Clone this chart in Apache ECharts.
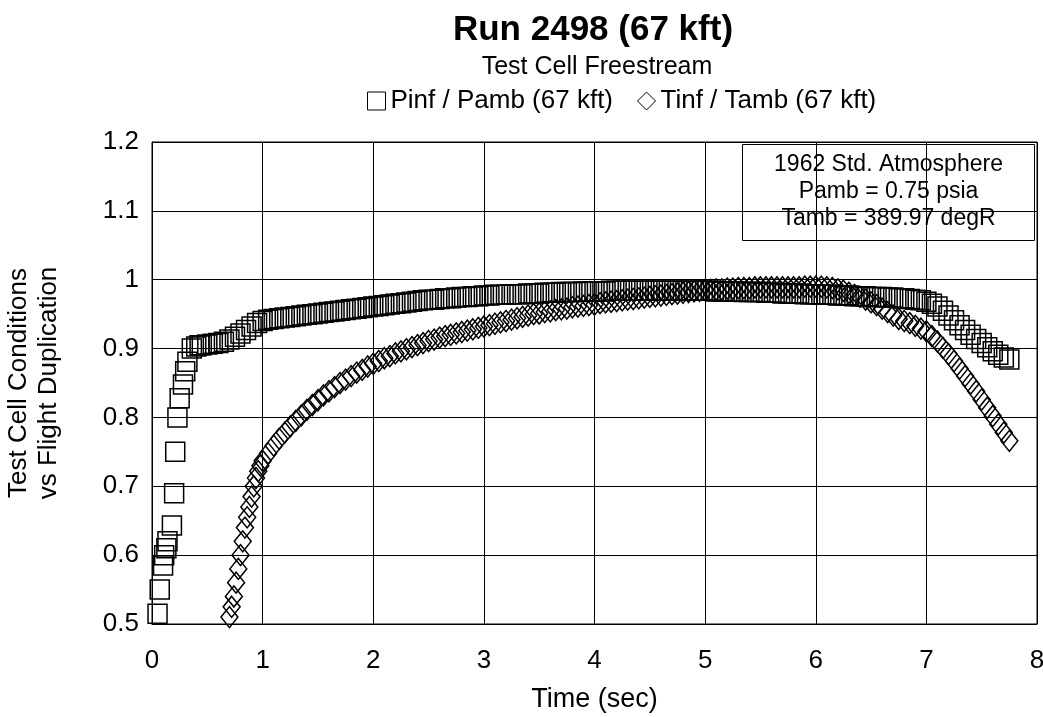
<!DOCTYPE html>
<html>
<head>
<meta charset="utf-8">
<script src="https://cdn.jsdelivr.net/npm/echarts@6/dist/echarts.min.js"></script>
<style>
html,body{margin:0;padding:0;background:#fff;}
#chart{width:1043px;height:717px;}
</style>
</head>
<body>
<div id="chart"></div>
<script>
// ---- Data ----
var xTicks = [0,1,2,3,4,5,6,7,8];
var yTicks = [0.5,0.6,0.7,0.8,0.9,1,1.1,1.2];

var pinfTime = [0.05,0.07,0.10,0.11,0.13,0.14,0.18,0.20,0.21,0.23,0.25,0.28,0.30,0.32,0.36,0.40,0.43,
0.45,0.50,0.55,0.60,0.65,0.70,0.75,0.80,0.85,0.90,0.95,1.00,1.05,1.10,1.15,1.20,1.25,1.30,1.35,1.40,1.45,1.50,
1.55,1.60,1.65,1.70,1.75,1.80,1.85,1.90,1.95,2.00,2.05,2.10,2.15,2.20,2.25,2.30,2.35,2.40,2.45,2.50,
2.55,2.60,2.65,2.70,2.75,2.80,2.85,2.90,2.95,3.00,3.05,3.10,3.15,3.20,3.25,3.30,3.35,3.40,3.45,3.50,
3.55,3.60,3.65,3.70,3.75,3.80,3.85,3.90,3.95,4.00,4.05,4.10,4.15,4.20,4.25,4.30,4.35,4.40,4.45,4.50,
4.55,4.60,4.65,4.70,4.75,4.80,4.85,4.90,4.95,5.00,5.05,5.10,5.15,5.20,5.25,5.30,5.35,5.40,5.45,5.50,
5.55,5.60,5.65,5.70,5.75,5.80,5.85,5.90,5.95,6.00,6.05,6.10,6.15,6.20,6.25,6.30,6.35,6.40,6.45,6.50,
6.55,6.60,6.65,6.70,6.75,6.80,6.85,6.90,6.95,7.00,7.05,7.10,7.15,7.20,7.25,7.30,7.35,7.40,7.45,7.50,
7.55,7.60,7.65,7.70,7.75];
var pinfRatio = [0.515,0.550,0.585,0.600,0.610,0.620,0.643,0.690,0.750,0.800,0.828,0.848,0.867,0.881,0.900,0.903,0.905,
0.905,0.906,0.907,0.908,0.910,0.913,0.917,0.922,0.927,0.932,0.937,0.940,0.942,0.943,0.944,0.945,0.946,0.947,0.948,0.949,0.950,0.951,
0.952,0.953,0.954,0.955,0.956,0.957,0.958,0.959,0.960,0.961,0.962,0.963,0.964,0.965,0.966,0.967,0.968,0.969,0.970,0.971,
0.971,0.972,0.973,0.973,0.974,0.975,0.975,0.976,0.976,0.977,0.977,0.978,0.978,0.978,0.979,0.979,0.979,0.980,0.980,0.980,
0.981,0.981,0.981,0.982,0.982,0.982,0.982,0.983,0.983,0.983,0.983,0.983,0.984,0.984,0.984,0.984,0.984,0.984,0.984,0.984,
0.984,0.984,0.984,0.984,0.984,0.984,0.984,0.984,0.984,0.984,0.984,0.983,0.983,0.983,0.983,0.983,0.982,0.982,0.982,0.982,
0.981,0.981,0.981,0.980,0.980,0.980,0.980,0.979,0.979,0.979,0.978,0.978,0.978,0.977,0.977,0.977,0.976,0.976,0.976,0.975,
0.975,0.975,0.974,0.974,0.973,0.973,0.972,0.971,0.970,0.968,0.965,0.961,0.955,0.948,0.941,0.934,0.927,0.920,0.914,0.908,
0.902,0.896,0.891,0.887,0.884];

var tinfTime = [0.70,0.72,0.74,0.76,0.78,0.80,0.82,0.84,0.86,0.88,0.90,0.92,0.94,0.96,0.98,
1.00,1.05,1.10,1.15,1.20,1.25,1.30,1.35,1.40,1.45,1.50,
1.55,1.60,1.65,1.70,1.75,1.80,1.85,1.90,1.95,2.00,2.05,2.10,2.15,2.20,2.25,2.30,2.35,2.40,2.45,2.50,
2.55,2.60,2.65,2.70,2.75,2.80,2.85,2.90,2.95,3.00,3.05,3.10,3.15,3.20,3.25,3.30,3.35,3.40,3.45,3.50,
3.55,3.60,3.65,3.70,3.75,3.80,3.85,3.90,3.95,4.00,4.05,4.10,4.15,4.20,4.25,4.30,4.35,4.40,4.45,4.50,
4.55,4.60,4.65,4.70,4.75,4.80,4.85,4.90,4.95,5.00,5.05,5.10,5.15,5.20,5.25,5.30,5.35,5.40,5.45,5.50,
5.55,5.60,5.65,5.70,5.75,5.80,5.85,5.90,5.95,6.00,6.05,6.10,6.15,6.20,6.25,6.30,6.35,6.40,6.45,6.50,
6.55,6.60,6.65,6.70,6.75,6.80,6.85,6.90,6.95,7.00,7.05,7.10,7.15,7.20,7.25,7.30,7.35,7.40,7.45,7.50,
7.55,7.60,7.65,7.70,7.75];
var tinfRatio = [0.510,0.525,0.540,0.560,0.580,0.600,0.620,0.640,0.655,0.670,0.685,0.700,0.712,0.722,0.730,
0.737,0.748,0.759,0.769,0.778,0.787,0.795,0.803,0.811,0.818,0.825,
0.832,0.838,0.844,0.850,0.855,0.860,0.865,0.869,0.874,0.878,0.882,0.886,0.889,0.893,0.896,0.899,0.902,0.905,0.908,0.911,
0.913,0.916,0.918,0.920,0.922,0.924,0.926,0.928,0.930,0.932,0.934,0.936,0.938,0.940,0.942,0.944,0.946,0.948,0.950,0.951,
0.953,0.954,0.956,0.957,0.958,0.960,0.961,0.962,0.963,0.964,0.966,0.967,0.968,0.969,0.970,0.971,0.972,0.973,0.974,0.975,
0.976,0.977,0.978,0.979,0.980,0.981,0.982,0.983,0.984,0.985,0.985,0.986,0.986,0.987,0.987,0.988,0.988,0.988,0.989,0.989,
0.989,0.989,0.989,0.989,0.989,0.989,0.989,0.990,0.990,0.990,0.990,0.989,0.988,0.986,0.984,0.981,0.978,0.975,0.971,0.967,
0.963,0.958,0.953,0.948,0.943,0.940,0.937,0.933,0.929,0.925,0.918,0.910,0.901,0.892,0.882,0.871,0.860,0.849,0.838,0.826,
0.814,0.802,0.790,0.778,0.766];

var titleText = 'Run 2498 (67 kft)';
var subtitleText = 'Test Cell Freestream';
var seriesNames = ['Pinf / Pamb (67 kft)', 'Tinf / Tamb (67 kft)'];
var xAxisName = 'Time (sec)';
var yAxisName = 'Test Cell Conditions\nvs Flight Duplication';
var noteLines = ['1962 Std. Atmosphere', 'Pamb = 0.75 psia', 'Tamb = 389.97 degR'];

function pairs(t, v){ var out=[]; for (var i=0;i<t.length;i++) out.push([t[i], v[i]]); return out; }

var FONT = '"Liberation Sans", Arial, Helvetica, sans-serif';
var chart = echarts.init(document.getElementById('chart'), null, {renderer:'canvas'});
chart.setOption({
  backgroundColor: '#ffffff',
  animation: false,
  textStyle: {fontFamily: FONT, color: '#000'},
  title: [
    {text: titleText, left: 588, top: 8, textAlign: 'center',
     textStyle: {fontFamily: FONT, fontSize: 35, fontWeight: 'bold', color: '#000'}},
    {text: subtitleText, left: 592, top: 50, textAlign: 'center',
     textStyle: {fontFamily: FONT, fontSize: 25, fontWeight: 'normal', color: '#000'}}
  ],
  legend: {
    top: 83, left: 362,
    itemGap: 24, itemWidth: 18, itemHeight: 18,
    textStyle: {fontFamily: FONT, fontSize: 26, color: '#000'},
    data: [
      {name: seriesNames[0], icon: 'rect', itemStyle: {color: 'transparent', borderColor: '#000', borderWidth: 1}},
      {name: seriesNames[1], icon: 'diamond', itemStyle: {color: 'transparent', borderColor: '#000', borderWidth: 1}}
    ]
  },
  grid: {left: 152, right: 6, top: 142, bottom: 93, show: true, borderColor: '#000', borderWidth: 1,
         containLabel: false, outerBoundsMode: 'none'},
  xAxis: {
    type: 'value', min: 0, max: 8, interval: 1,
    name: xAxisName, nameLocation: 'middle', nameGap: 62,
    nameTextStyle: {fontFamily: FONT, fontSize: 27, color: '#000'},
    axisLine: {show: true, lineStyle: {color: '#000', width: 1}},
    axisTick: {show: false},
    axisLabel: {fontFamily: FONT, fontSize: 26, color: '#000', margin: 24,
      formatter: function(v){ return xTicks.indexOf(v) >= 0 ? String(v) : ''; }},
    splitLine: {show: true, lineStyle: {color: '#000', width: 1}}
  },
  yAxis: {
    type: 'value', min: 0.5, max: 1.2, interval: 0.1,
    name: yAxisName, nameLocation: 'middle', nameRotate: 90, nameGap: 88,
    nameTextStyle: {fontFamily: FONT, fontSize: 26, color: '#000', lineHeight: 30, align: 'center'},
    axisLine: {show: true, lineStyle: {color: '#000', width: 1}},
    axisTick: {show: false},
    axisLabel: {fontFamily: FONT, fontSize: 26, color: '#000', margin: 13,
      formatter: function(v){ var r = Math.round(v*10)/10; return yTicks.indexOf(r) >= 0 ? String(r) : ''; }},
    splitLine: {show: true, lineStyle: {color: '#000', width: 1}}
  },
  series: [
    {name: seriesNames[0], type: 'scatter', symbol: 'rect', symbolSize: 19,
     itemStyle: {color: 'transparent', borderColor: '#000', borderWidth: 1.5, opacity: 1},
     data: pairs(pinfTime, pinfRatio), z: 3},
    {name: seriesNames[1], type: 'scatter', symbol: 'diamond', symbolSize: [17, 21],
     itemStyle: {color: 'transparent', borderColor: '#000', borderWidth: 1.5, opacity: 1},
     data: pairs(tinfTime, tinfRatio), z: 3}
  ],
  graphic: [{
    type: 'group', left: 742, top: 144, z: 10,
    children: [
      {type: 'rect', shape: {x: 0, y: 0, width: 292, height: 96},
       style: {fill: '#fff', stroke: '#000', lineWidth: 1}},
      {type: 'text', x: 146, y: 9, style: {text: noteLines[0], font: '23px ' + FONT, fill: '#000', textAlign: 'center'}},
      {type: 'text', x: 146, y: 36, style: {text: noteLines[1], font: '23px ' + FONT, fill: '#000', textAlign: 'center'}},
      {type: 'text', x: 146, y: 63, style: {text: noteLines[2], font: '23px ' + FONT, fill: '#000', textAlign: 'center'}}
    ]
  }]
});
</script>
</body>
</html>
